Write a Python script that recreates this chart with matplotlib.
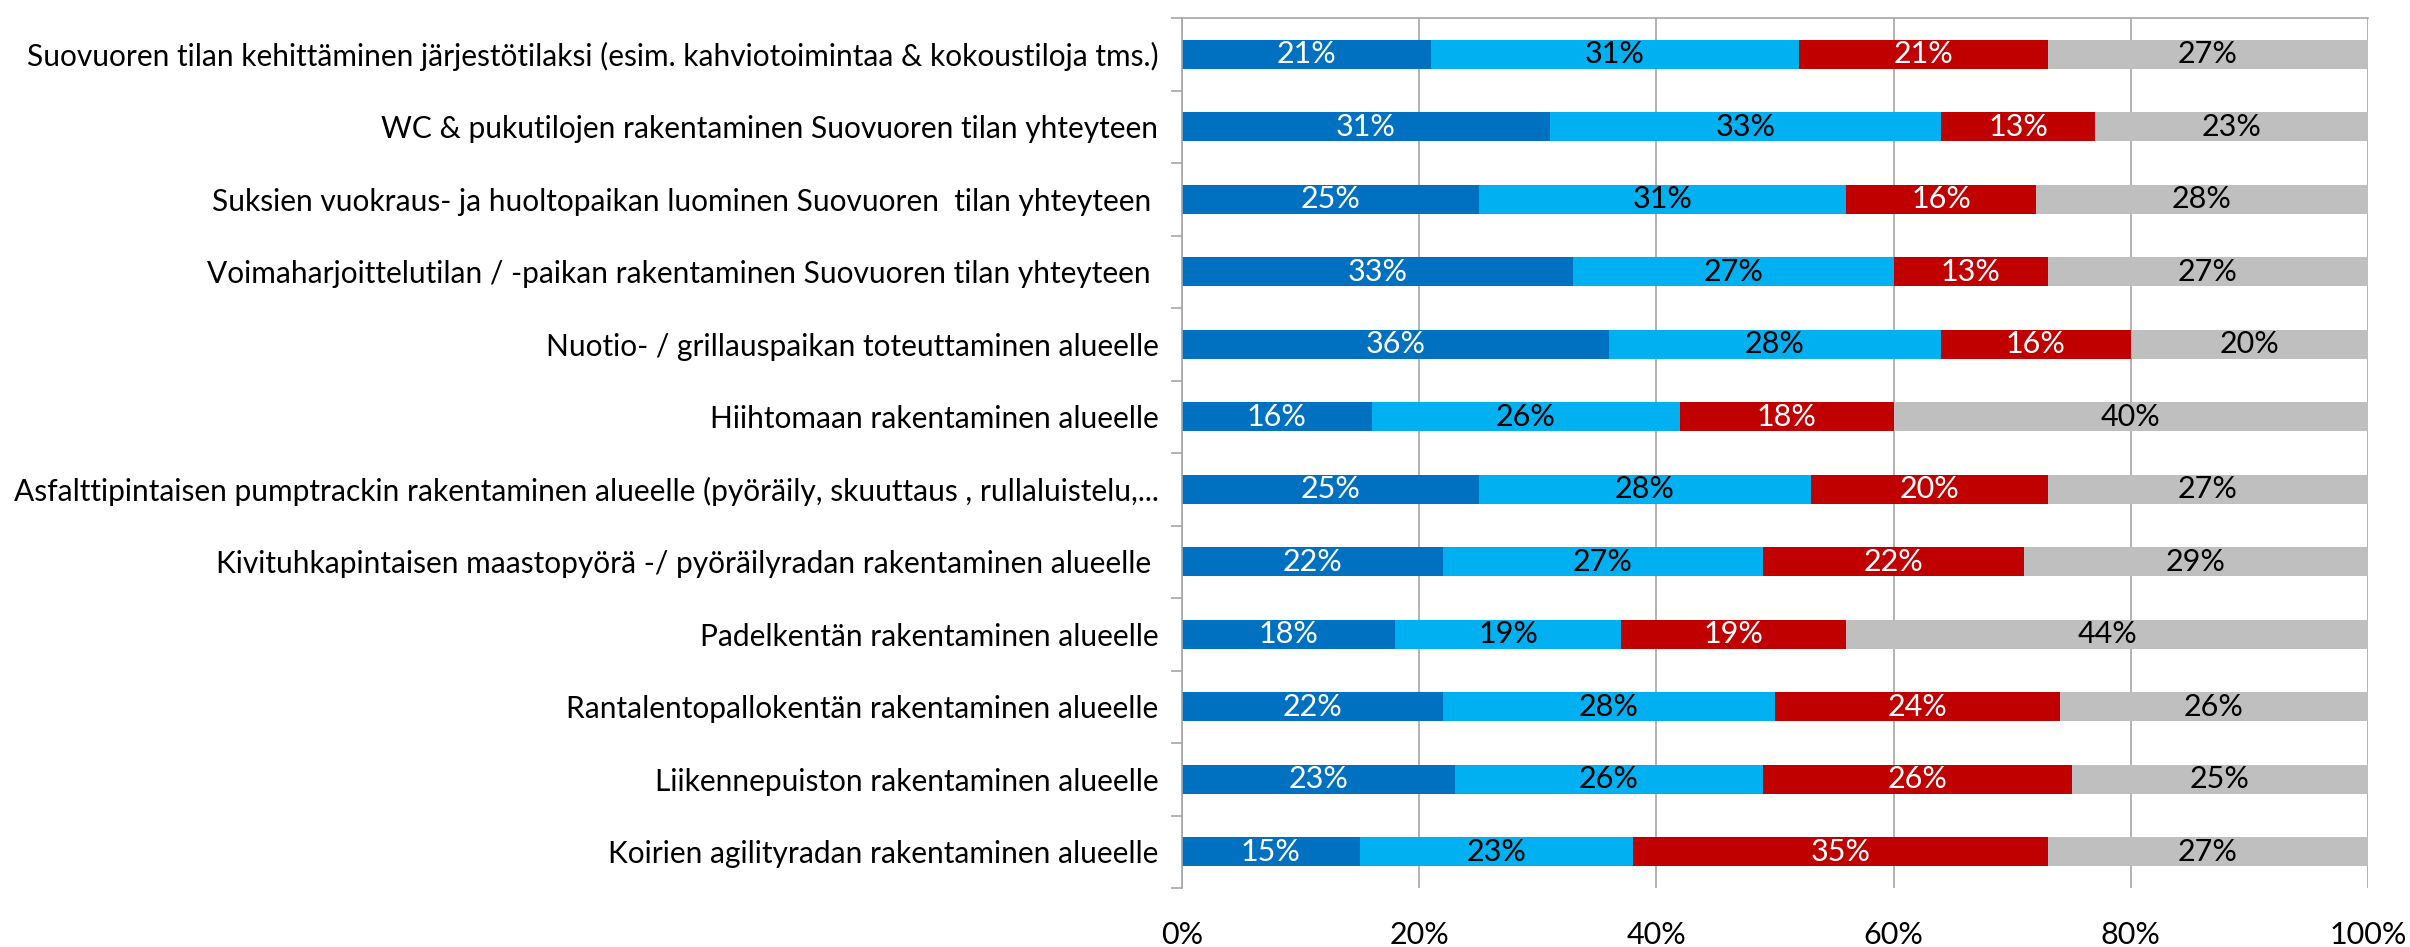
"""Stacked 100% horizontal bars: support for Suovuori area development ideas."""
import matplotlib
matplotlib.use("Agg")
import matplotlib.pyplot as plt
import numpy as np
from matplotlib.ticker import FixedLocator, PercentFormatter

plt.rcParams["font.family"] = ["Lato", "DejaVu Sans"]

CATEGORIES = [
    "Suovuoren tilan kehittäminen järjestötilaksi (esim. kahviotoimintaa & kokoustiloja tms.)",
    "WC & pukutilojen rakentaminen Suovuoren tilan yhteyteen",
    "Suksien vuokraus- ja huoltopaikan luominen Suovuoren  tilan yhteyteen ",
    "Voimaharjoittelutilan / -paikan rakentaminen Suovuoren tilan yhteyteen ",
    "Nuotio- / grillauspaikan toteuttaminen alueelle",
    "Hiihtomaan rakentaminen alueelle",
    "Asfalttipintaisen pumptrackin rakentaminen alueelle (pyöräily, skuuttaus , rullaluistelu,...",
    "Kivituhkapintaisen maastopyörä -/ pyöräilyradan rakentaminen alueelle ",
    "Padelkentän rakentaminen alueelle",
    "Rantalentopallokentän rakentaminen alueelle",
    "Liikennepuiston rakentaminen alueelle",
    "Koirien agilityradan rakentaminen alueelle",
]

# share of answers per category (%), four answer groups
SERIES_1 = [21, 31, 25, 33, 36, 16, 25, 22, 18, 22, 23, 15]
SERIES_2 = [31, 33, 31, 27, 28, 26, 28, 27, 19, 28, 26, 23]
SERIES_3 = [21, 13, 16, 13, 16, 18, 20, 22, 19, 24, 26, 35]
SERIES_4 = [27, 23, 28, 27, 20, 40, 27, 29, 44, 26, 25, 27]

COLORS = ["#0070C0", "#00B0F0", "#C00000", "#BFBFBF"]
TEXT_COLORS = ["white", "black", "white", "black"]


def main() -> None:
    fig = plt.figure(figsize=(24.1, 9.47), dpi=100)
    ax = fig.add_axes([1182 / 2410, 59 / 947, 1186 / 2410, 870 / 947])

    y = np.arange(len(CATEGORIES))
    left = np.zeros(len(CATEGORIES))
    for vals, color, tcolor in zip([SERIES_1, SERIES_2, SERIES_3, SERIES_4], COLORS, TEXT_COLORS):
        vals = np.array(vals, dtype=float)
        bars = ax.barh(y, vals, left=left, height=0.4, color=color, zorder=2)
        ax.bar_label(bars, labels=[f"{v:.0f}%" for v in vals], label_type="center",
                     color=tcolor, fontsize=22)
        left += vals

    ax.set_xlim(0, 100)
    ax.set_ylim(len(CATEGORIES) - 0.5, -0.5)
    ax.xaxis.set_major_locator(FixedLocator([0, 20, 40, 60, 80, 100]))
    ax.xaxis.set_major_formatter(PercentFormatter(decimals=0))
    ax.grid(axis="x", color="#A6A6A6", linewidth=1.2, zorder=0)
    ax.tick_params(axis="x", length=0, labelsize=22, pad=24)

    ax.set_yticks(y)
    ax.set_yticklabels(CATEGORIES, fontsize=21.5)
    ax.yaxis.set_minor_locator(FixedLocator(np.arange(-0.5, len(CATEGORIES), 1)))
    ax.tick_params(axis="y", which="major", length=0, pad=17)
    ax.tick_params(axis="y", which="minor", length=8, color="#A6A6A6", width=1.2)

    for side in ["right", "bottom"]:
        ax.spines[side].set_visible(False)
    for side in ["left", "top"]:
        ax.spines[side].set_color("#A6A6A6")
        ax.spines[side].set_linewidth(1.2)

    fig.savefig("out.png", dpi=100)
    plt.close(fig)


if __name__ == "__main__":
    main()
